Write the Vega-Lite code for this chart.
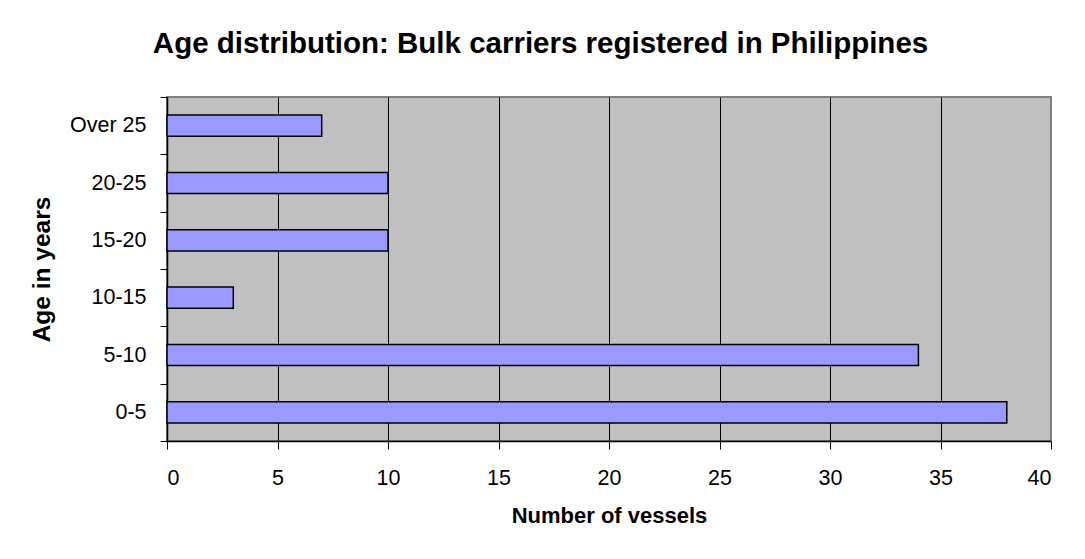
{
  "$schema": "https://vega.github.io/schema/vega-lite/v6.json",
  "autosize": {"type": "none"},
  "width": 884,
  "height": 344,
  "padding": {"left": 167, "top": 97, "right": 34, "bottom": 118},
  "background": "white",
  "title": {
    "text": "Age distribution: Bulk carriers registered in Philippines",
    "font": "Liberation Sans",
    "fontSize": 29.5,
    "fontWeight": "bold",
    "color": "black",
    "anchor": "middle",
    "frame": "bounds",
    "baseline": "alphabetic",
    "offset": 4
  },
  "data": {
    "values": [
      {"age": "Over 25", "vessels": 7},
      {"age": "20-25", "vessels": 10},
      {"age": "15-20", "vessels": 10},
      {"age": "10-15", "vessels": 3},
      {"age": "5-10", "vessels": 34},
      {"age": "0-5", "vessels": 38}
    ]
  },
  "mark": {
    "type": "bar",
    "color": "#9999FF",
    "stroke": "black",
    "strokeWidth": 1.5,
    "height": {"band": 0.37}
  },
  "encoding": {
    "y": {
      "field": "age",
      "type": "nominal",
      "sort": ["Over 25", "20-25", "15-20", "10-15", "5-10", "0-5"],
      "scale": {"paddingInner": 0, "paddingOuter": 0},
      "axis": {
        "title": "Age in years",
        "titleFont": "Liberation Sans",
        "titleFontSize": 24.5,
        "titleFontWeight": "bold",
        "titleColor": "black",
        "titlePadding": 15,
        "labelFont": "Liberation Sans",
        "labelFontSize": 21.5,
        "labelColor": "black",
        "labelPadding": 14,
        "tickSize": 7,
        "tickColor": "black",
        "tickWidth": 1,
        "tickBand": "extent",
        "domainColor": "black",
        "domainWidth": 1.5,
        "grid": false
      }
    },
    "x": {
      "field": "vessels",
      "type": "quantitative",
      "scale": {"domain": [0, 40], "nice": false},
      "axis": {
        "title": "Number of vessels",
        "titleFont": "Liberation Sans",
        "titleFontSize": 22,
        "titleFontWeight": "bold",
        "titleColor": "black",
        "titlePadding": 17,
        "labelFont": "Liberation Sans",
        "labelFontSize": 21.5,
        "labelColor": "black",
        "labelPadding": 18,
        "values": [0, 5, 10, 15, 20, 25, 30, 35, 40],
        "tickSize": 8,
        "tickColor": "black",
        "tickWidth": 1,
        "domainColor": "black",
        "domainWidth": 1.5,
        "grid": true,
        "gridColor": {"condition": {"test": "datum.value === 40", "value": "#808080"}, "value": "black"},
        "gridWidth": 1
      }
    }
  },
  "config": {
    "view": {"fill": "#C0C0C0", "stroke": "#808080", "strokeWidth": 2}
  }
}
